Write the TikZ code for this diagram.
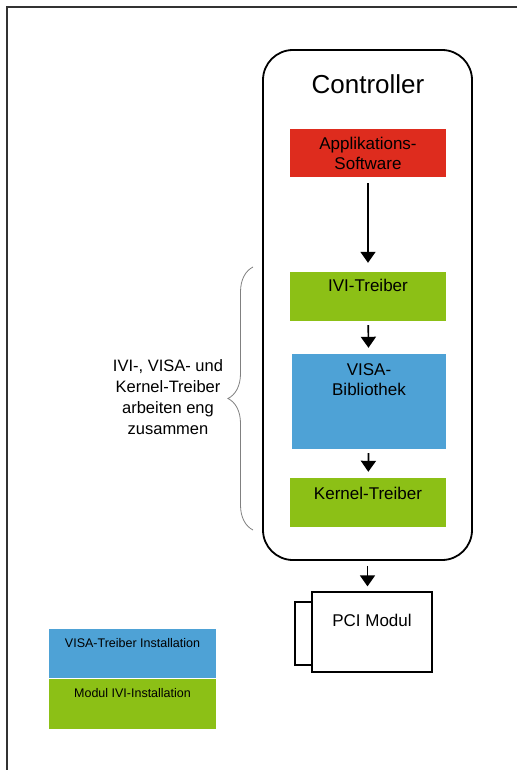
\documentclass[tikz,border=0pt]{standalone}
\usepackage{fontspec}
\setmainfont{Liberation Sans}
\usetikzlibrary{positioning,arrows.meta,decorations.pathreplacing}
\definecolor{appred}{RGB}{222,44,30}
\definecolor{ivigreen}{RGB}{140,192,22}
\definecolor{visablue}{RGB}{78,162,214}

\begin{document}
\begin{tikzpicture}[x=1pt, y=-1pt,
    box/.style={minimum width=156pt, inner sep=0pt, align=center},
    lbl/.style={font=\fontsize{17}{20}\selectfont, align=center, inner sep=0pt},
    pfeil/.style={line width=1.7pt, -{Triangle[length=11pt,width=15pt]}, shorten <=4pt, shorten >=6pt}]
  \useasboundingbox (0,0) rectangle (517,770);
  \fill[white] (0,0) rectangle (517,770);

  % Rahmen
  \draw[line width=1.6pt, black!80] (517,7) -- (7,7) -- (7,770);

  % Controller
  \node[draw, line width=1.8pt, rounded corners=30pt, minimum width=209pt, minimum height=510pt] (ctrl) at (367.5,305) {};
  \node[font=\fontsize{26}{30}\selectfont] (ctrltxt) at (368,84) {Controller};

  % Schichten
  \node[box, fill=appred, minimum height=48pt, font=\fontsize{17}{20}\selectfont] (app) at (368,153) {Applikations-\\Software};
  \node[box, fill=ivigreen, minimum height=49pt] (ivi) at (368,296.5) {};
  \node[lbl] (ivitxt) at (368,285) {IVI-Treiber};
  \node[box, fill=visablue, minimum width=154pt, minimum height=95pt] (visa) at (369,401.5) {};
  \node[lbl] (visatxt) at (369,380) {VISA-\\Bibliothek};
  \node[box, fill=ivigreen, minimum height=49pt] (kernel) at (368,502.5) {};
  \node[lbl] (kerneltxt) at (368,493) {Kernel-Treiber};

  % Pfeile
  \draw[pfeil, shorten <=6pt, shorten >=9pt] (app) -- (ivi);
  \draw[pfeil] (ivi) -- (visa);
  \draw[pfeil] (visa) -- (kernel);

  % PCI Modul
  \draw[line width=1.3pt] (312,602) -- (295,602) -- (295,665) -- (312,665);
  \node[draw, line width=1.3pt, minimum width=120pt, minimum height=80pt] (pci) at (372,632) {};
  \node[lbl] (pcitxt) at (372,620) {PCI Modul};
  \draw[pfeil, shorten <=5pt, shorten >=5pt] (ctrl.south) -- (ctrl.south |- pci.north);

  % Klammer
  \draw[gray, line width=0.8pt, decorate, decoration={brace, amplitude=25pt}] (253,530) -- (253,267);
  \node[font=\fontsize{16.5}{21}\selectfont, align=center] (bracetxt) at (168,397) {IVI-, VISA- und\\Kernel-Treiber\\arbeiten eng\\zusammen};

  % Legende
  \node[fill=visablue, minimum width=167pt, minimum height=49pt, inner sep=0pt, anchor=north west] (legvisa) at (49,629) {};
  \node[fill=ivigreen, minimum width=167pt, minimum height=50pt, inner sep=0pt, anchor=north] (legivi) at (legvisa.south) {};
  \node[font=\fontsize{12.5}{15}\selectfont] (legvisatxt) at (132.5,643) {VISA-Treiber Installation};
  \node[font=\fontsize{12.5}{15}\selectfont] (legivitxt) at (132.5,693) {Modul IVI-Installation};
\end{tikzpicture}
\end{document}
